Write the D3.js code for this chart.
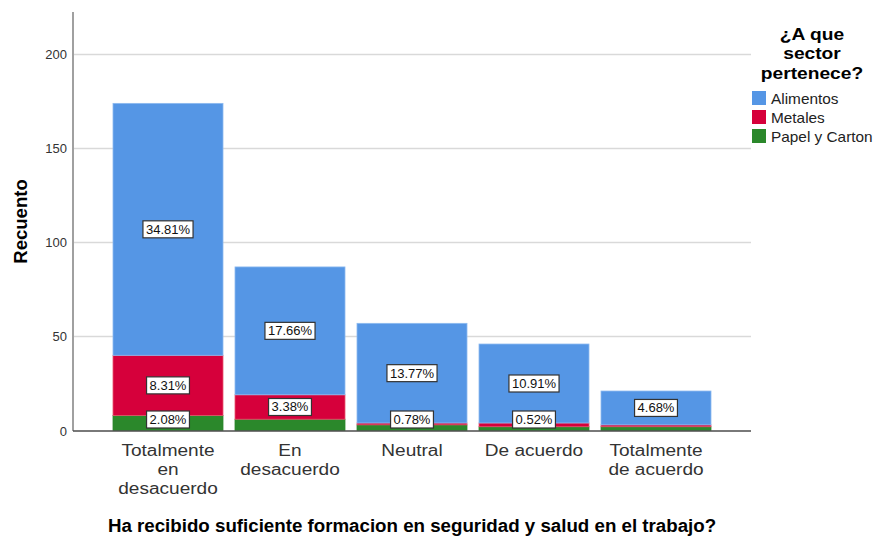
<!DOCTYPE html>
<html>
<head>
<meta charset="utf-8">
<script src="https://cdn.jsdelivr.net/npm/d3@7"></script>
<style>
body{margin:0;background:#fff;}
svg{display:block;font-family:"Liberation Sans",Arial,sans-serif;}
</style>
</head>
<body>
<script>
//chart data
var categories = [['Totalmente','en','desacuerdo'],['En','desacuerdo'],['Neutral'],['De acuerdo'],['Totalmente','de acuerdo']];
var seriesNames = ['Papel y Carton','Metales','Alimentos'];
var papel = [8, 6, 3, 2, 2];
var metales = [32, 13, 1, 2, 1];
var alimentos = [134, 68, 53, 42, 18];
//which segment labels are visible (SPSS hides overlapping ones)
var showPapel = [true, false, true, true, false];
var showMetales = [true, true, false, false, false];
var showAlimentos = [true, true, true, true, true];
var yTicks = [0, 50, 100, 150, 200];
var yMax = 222.6;
var legendTitle = ['¿A que','sector','pertenece?'];
var legendOrder = ['Alimentos','Metales','Papel y Carton'];
var colors = {'Alimentos':'#5596E5','Metales':'#D6003B','Papel y Carton':'#2B882B'};
var edges = {'Alimentos':'#8DBAF0','Metales':'#E8566F','Papel y Carton':'#2B882B'};

var W = 876, H = 536;
var svg = d3.select('body').append('svg').attr('width',W).attr('height',H);

var x = d3.scaleBand().domain(d3.range(categories.length)).range([73,751])
			.paddingInner(12/122).paddingOuter(40/122);
var y = d3.scaleLinear().domain([0,yMax]).range([430.5,12]);

var total = d3.sum(papel)+d3.sum(metales)+d3.sum(alimentos);

//gridlines
svg.selectAll('line.grid').data(yTicks.filter(function(d){return d>0}))
	.enter().append('line')
	.attr('x1',74).attr('x2',751)
	.attr('y1',function(d){return y(d)}).attr('y2',function(d){return y(d)})
	.attr('stroke','#d9d9d9').attr('stroke-width',1.5);

//stacked segments
var rows = categories.map(function(c,i){
	return {i:i,'Papel y Carton':papel[i],'Metales':metales[i],'Alimentos':alimentos[i]};
});
var stack = d3.stack().keys(seriesNames)(rows);
var shown = {'Papel y Carton':showPapel,'Metales':showMetales,'Alimentos':showAlimentos};

stack.forEach(function(layer){
	svg.append('g').selectAll('rect').data(layer)
		.enter().append('rect')
		.attr('x',function(d){return x(d.data.i)})
		.attr('width',x.bandwidth())
		.attr('y',function(d){return y(d[1])})
		.attr('height',function(d){return y(d[0])-y(d[1])})
		.attr('fill',colors[layer.key])
		.attr('stroke',edges[layer.key])
		.attr('stroke-width',0.8);
});

//axes
svg.append('line').attr('x1',73).attr('x2',73).attr('y1',12).attr('y2',431)
	.attr('stroke','#808080').attr('stroke-width',1.5);
svg.append('line').attr('x1',73).attr('x2',751).attr('y1',431).attr('y2',431)
	.attr('stroke','#4d4d4d').attr('stroke-width',1.5);

svg.selectAll('text.ytick').data(yTicks)
	.enter().append('text')
	.attr('x',67).attr('y',function(d){return y(d)+5})
	.attr('text-anchor','end').attr('font-size',13).attr('fill','#333')
	.text(function(d){return d});

//segment labels
stack.forEach(function(layer){
	var g = svg.append('g');
	layer.forEach(function(d){
		var i = d.data.i;
		if(!shown[layer.key][i]) return;
		var v = d[1]-d[0];
		var txt = (v/total*100).toFixed(2)+'%';
		var cy = Math.min((y(d[0])+y(d[1]))/2, y(0)-11);
		var cx = x(i)+x.bandwidth()/2;
		var t = g.append('text').attr('x',cx).attr('y',cy+4.5)
			.attr('text-anchor','middle').attr('font-size',13).attr('fill','#111').text(txt);
		var bw = t.node().getComputedTextLength()+6;
		g.insert('rect','text').attr('x',cx-bw/2).attr('y',cy-8.5)
			.attr('width',bw).attr('height',17)
			.attr('fill','#fff').attr('stroke','#333').attr('stroke-width',1.2);
	});
});

//category labels (reference glyphs are a bit wider, so stretch horizontally)
categories.forEach(function(lines,i){
	var t = svg.append('text')
		.attr('transform','translate('+(x(i)+x.bandwidth()/2)+',0) scale(1.19,1)')
		.attr('text-anchor','middle').attr('font-size',16).attr('fill','#333');
	lines.forEach(function(l,j){
		t.append('tspan').attr('x',0).attr('y',456+j*19).text(l);
	});
});

//titles
svg.append('text').attr('transform','translate(27,221.5) rotate(-90) scale(1.03,1)')
	.attr('text-anchor','middle').attr('font-size',18).attr('font-weight','bold').attr('fill','#000')
	.text('Recuento');
svg.append('text').attr('transform','translate(412,532) scale(1.07,1)')
	.attr('text-anchor','middle').attr('font-size',17.5).attr('font-weight','bold').attr('fill','#000')
	.text('Ha recibido suficiente formacion en seguridad y salud en el trabajo?');

//legend
var lt = svg.append('text').attr('transform','translate(812,0) scale(1.2,1)')
	.attr('text-anchor','middle').attr('font-size',16).attr('font-weight','bold').attr('fill','#000');
legendTitle.forEach(function(l,j){
	lt.append('tspan').attr('x',0).attr('y',40+j*19.5).text(l);
});
var leg = svg.selectAll('g.leg').data(legendOrder).enter().append('g')
	.attr('transform',function(d,i){return 'translate(752,'+(91+i*19)+')'});
leg.append('rect').attr('width',14).attr('height',14).attr('fill',function(d){return colors[d]});
leg.append('text').attr('transform','translate(19,13) scale(1.06,1)')
	.attr('font-size',14.5).attr('fill','#222').text(function(d){return d});
</script>
</body>
</html>
